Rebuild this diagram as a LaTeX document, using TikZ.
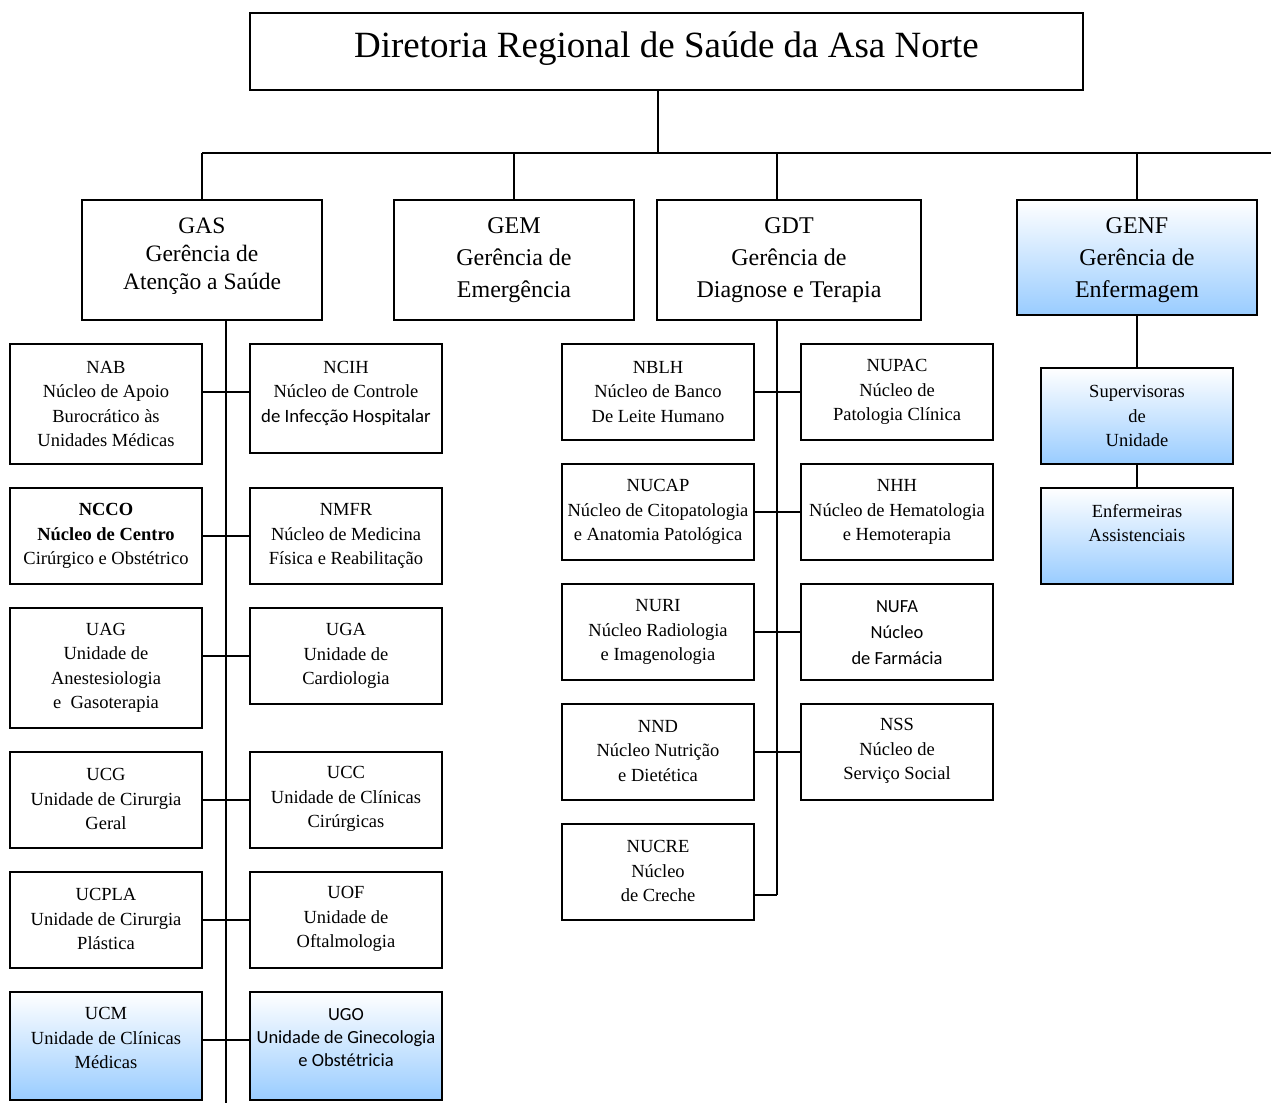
\documentclass[tikz,border=0pt]{standalone}
\usepackage{fontspec}
\setmainfont{Liberation Serif}
\newfontfamily\calfont{Carlito}
\definecolor{gblue}{RGB}{153,204,255}
\begin{document}
\begin{tikzpicture}[x=1pt,y=-1pt,
  box/.style={draw, line width=1.6pt, inner sep=0pt},
  bbox/.style={box, top color=white, bottom color=gblue},
  txt/.style={align=center, inner sep=0pt, font=\fontsize{18.5}{24.5}\selectfont},
  big/.style={align=center, inner sep=0pt, font=\fontsize{24}{32}\selectfont},
  conn/.style={line width=1.6pt}]
\useasboundingbox (0,0) rectangle (1271,1103);
% title
\node[box, minimum width=833, minimum height=77] (title) at (666.5,51.5) {};
\node[align=center, inner sep=0pt, font=\fontsize{37}{40}\selectfont] (titlet) at (666.5,49) {Diretoria Regional de Saúde da Asa Norte};
% level 2
\node[box, minimum width=240, minimum height=120] (gas) at (202,260) {};
\node[big, font=\fontsize{23.5}{28}\selectfont] (gast) at (202,256) {GAS\\Gerência de\\Atenção a Saúde};
\node[box, minimum width=240, minimum height=120] (gem) at (514,260) {};
\node[big] (gemt) at (514,260) {GEM\\Gerência de\\Emergência};
\node[box, minimum width=264, minimum height=120] (gdt) at (789,260) {};
\node[big] (gdtt) at (789,260) {GDT\\Gerência de\\Diagnose e Terapia};
\node[bbox, minimum width=240, minimum height=115] (genf) at (1137,257.5) {};
\node[big] (genft) at (1137,260) {GENF\\Gerência de\\Enfermagem};
% GAS children
\node[box, minimum width=192, minimum height=120] (nab) at (106,404) {};
\node[txt] (nabt) at (106,404) {NAB\\Núcleo de Apoio\\Burocrático às\\Unidades Médicas};
\node[box, minimum width=192, minimum height=109] (ncih) at (346,398.5) {};
\node[txt] (nciht) at (346,393) {NCIH\\Núcleo de Controle\\{\calfont\fontsize{18.8}{24.5}\selectfont de Infecção Hospitalar}};
\node[box, minimum width=192, minimum height=96] (ncco) at (106,536) {};
\node[txt] (nccot) at (106,536) {\textbf{NCCO}\\\textbf{Núcleo de Centro}\\Cirúrgico e Obstétrico};
\node[box, minimum width=192, minimum height=96] (nmfr) at (346,536) {};
\node[txt] (nmfrt) at (346,536) {NMFR\\Núcleo de Medicina\\Física e Reabilitação};
\node[box, minimum width=192, minimum height=120] (uag) at (106,668) {};
\node[txt] (uagt) at (106,668) {UAG\\Unidade de\\Anestesiologia\\e~ Gasoterapia};
\node[box, minimum width=192, minimum height=96] (uga) at (346,656) {};
\node[txt] (ugat) at (346,656) {UGA\\Unidade de\\Cardiologia};
\node[box, minimum width=192, minimum height=96] (ucg) at (106,800) {};
\node[txt] (ucgt) at (106,799) {UCG\\Unidade de Cirurgia\\Geral};
\node[box, minimum width=192, minimum height=96] (ucc) at (346,800) {};
\node[txt] (ucct) at (346,799) {UCC\\Unidade de Clínicas\\Cirúrgicas};
\node[box, minimum width=192, minimum height=96] (ucpla) at (106,920) {};
\node[txt] (ucplat) at (106,919) {UCPLA\\Unidade de Cirurgia\\Plástica};
\node[box, minimum width=192, minimum height=96] (uof) at (346,920) {};
\node[txt] (uoft) at (346,919) {UOF\\Unidade de\\Oftalmologia};
\node[bbox, minimum width=192, minimum height=108] (ucm) at (106,1046) {};
\node[txt] (ucmt) at (106,1038) {UCM\\Unidade de Clínicas\\Médicas};
\node[bbox, minimum width=192, minimum height=108] (ugo) at (346,1046) {};
\node[txt, font=\calfont\fontsize{18.5}{23}\selectfont] (ugot) at (346,1038) {UGO\\Unidade de Ginecologia\\e Obstétricia};
% GDT children
\node[box, minimum width=192, minimum height=96] (nblh) at (658,392) {};
\node[txt] (nblht) at (658,392) {NBLH\\Núcleo de Banco\\De Leite Humano};
\node[box, minimum width=192, minimum height=96] (nupac) at (897,392) {};
\node[txt] (nupact) at (897,392) {NUPAC\\Núcleo de\\ Patologia Clínica};
\node[box, minimum width=192, minimum height=96] (nucap) at (658,512) {};
\node[txt] (nucapt) at (658,512) {NUCAP\\Núcleo de Citopatologia\\ e Anatomia Patológica};
\node[box, minimum width=192, minimum height=96] (nhh) at (897,512) {};
\node[txt] (nhht) at (897,512) {NHH\\Núcleo de Hematologia\\e Hemoterapia};
\node[box, minimum width=192, minimum height=96] (nuri) at (658,632) {};
\node[txt] (nurit) at (658,632) {NURI\\Núcleo Radiologia\\e Imagenologia};
\node[box, minimum width=192, minimum height=96] (nufa) at (897,632) {};
\node[txt, font=\calfont\fontsize{18.5}{26}\selectfont] (nufat) at (897,633) {NUFA\\Núcleo\\de Farmácia};
\node[box, minimum width=192, minimum height=96] (nnd) at (658,752) {};
\node[txt] (nndt) at (658,751) {NND\\Núcleo Nutrição\\e Dietética};
\node[box, minimum width=192, minimum height=96] (nss) at (897,752) {};
\node[txt] (nsst) at (897,751) {NSS\\Núcleo de\\Serviço Social};
\node[box, minimum width=192, minimum height=96] (nucre) at (658,872) {};
\node[txt] (nucret) at (658,871) {NUCRE\\Núcleo\\de Creche};
% GENF children
\node[bbox, minimum width=192, minimum height=96] (sup) at (1137,416) {};
\node[txt] (supt) at (1137,416) {Supervisoras\\de\\Unidade};
\node[bbox, minimum width=192, minimum height=96] (enf) at (1137,536) {};
\node[txt] (enft) at (1137,523) {Enfermeiras\\Assistenciais};
% connectors
\coordinate (hub) at (658,153);
\coordinate (hr) at (1271,153);
\coordinate (gsp) at (226,1103);
\coordinate (dsp) at (777,895);
\draw[conn] (title.south -| hub) -- (hub);
\draw[conn] (gas.north |- hub) -- (hr);
\draw[conn] (gas.north |- hub) -- (gas.north);
\draw[conn] (gem.north |- hub) -- (gem.north);
\draw[conn] (dsp |- hub) -- (dsp |- gdt.north);
\draw[conn] (genf.north |- hub) -- (genf.north);
\draw[conn] (gsp |- gas.south) -- (gsp);
\draw[conn] (dsp |- gdt.south) -- (dsp);
\draw[conn] (genf.south) -- (sup.north);
\draw[conn] (sup.south) -- (enf.north);
\foreach \l/\r/\y in {nab/ncih/392, ncco/nmfr/536, uag/uga/656, ucg/ucc/800, ucpla/uof/920, ucm/ugo/1040}
  {\draw[conn] (\l.east |- 0,\y) -- (\r.west |- 0,\y);}
\foreach \l/\r/\y in {nblh/nupac/392, nucap/nhh/512, nuri/nufa/632, nnd/nss/752}
  {\draw[conn] (\l.east |- 0,\y) -- (\r.west |- 0,\y);}
\draw[conn] (nucre.east |- dsp) -- (dsp);
\end{tikzpicture}
\end{document}
